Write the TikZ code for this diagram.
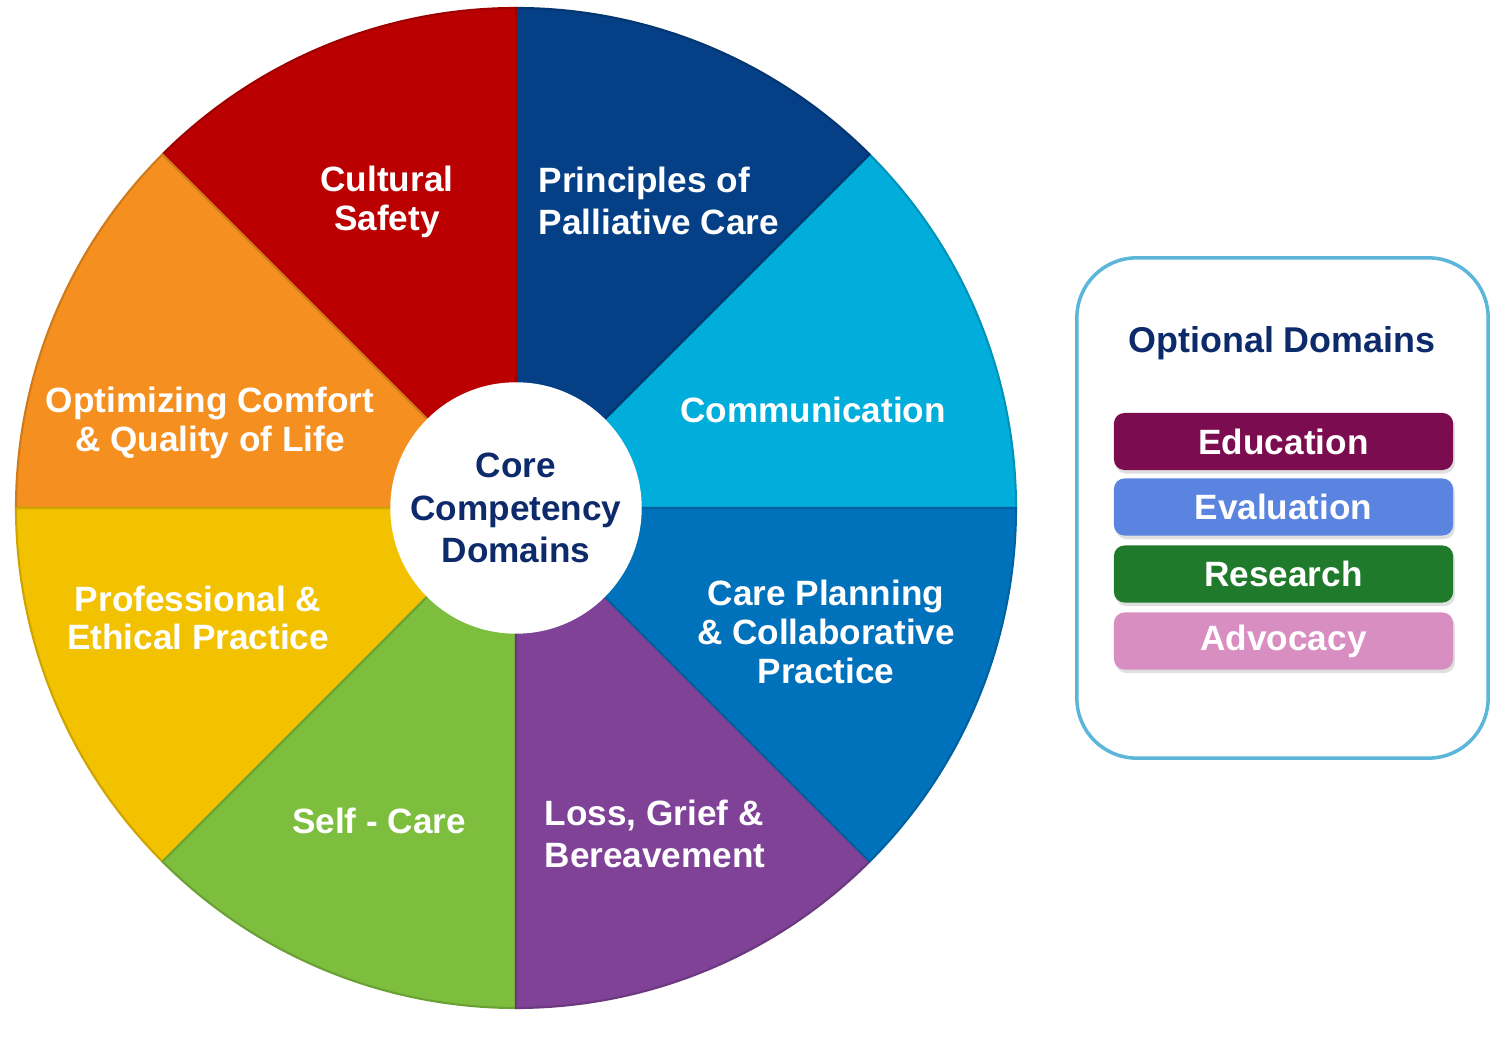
\documentclass[tikz,border=0pt]{standalone}
\usepackage{fontspec}
\setmainfont{Liberation Sans}
\usetikzlibrary{positioning,shadows}

\definecolor{safetyred}{HTML}{BA0000}
\definecolor{principlesblue}{HTML}{053F85}
\definecolor{commcyan}{HTML}{00ADDB}
\definecolor{planningblue}{HTML}{0072BC}
\definecolor{losspurple}{HTML}{7F4297}
\definecolor{selfgreen}{HTML}{7DBE3E}
\definecolor{ethicsyellow}{HTML}{F2C200}
\definecolor{comfortorange}{HTML}{F48F20}
\definecolor{corenavy}{HTML}{0D2A6B}
\definecolor{boxline}{HTML}{5BB6D9}
\definecolor{eduplum}{HTML}{7B0C4F}
\definecolor{evalblue}{HTML}{5A84E0}
\definecolor{researchgreen}{HTML}{1F7A2C}
\definecolor{advocacypink}{HTML}{D98EC2}

\tikzset{
  sectorlabel/.style={text=white, align=center, inner sep=0pt,
    font=\bfseries\fontsize{10}{11}\selectfont},
  optbar/.style={fill=#1, rounded corners=3pt, minimum width=3.39cm,
    minimum height=0.57cm, inner sep=0pt, text=white,
    drop shadow={opacity=0.25, shadow xshift=0.5pt, shadow yshift=-1pt},
    font=\bfseries\fontsize{10}{11}\selectfont}
}

\begin{document}
\begin{tikzpicture}[x=0.01cm, y=0.01cm]
	\useasboundingbox (0,0) rectangle (1509,1040);
	\coordinate (hub) at (516,532);

	% the eight domain sectors, counter-clockwise from east
	\foreach \start/\col in {0/commcyan, 45/principlesblue, 90/safetyred,
		135/comfortorange, 180/ethicsyellow, 225/selfgreen, 270/losspurple,
		315/planningblue}
	{
		\filldraw [fill=\col, draw=\col!85!black, line width=0.6pt]
			(hub) -- ++(\start:500) arc (\start:\start+45:500) -- cycle;
	}

	% centre disc
	\filldraw [fill=white, draw=white] (hub) circle (125);
	\node [align=center, text=corenavy, inner sep=0pt,
		font=\bfseries\fontsize{10}{12.2}\selectfont] (core) at (hub)
		{Core\\Competency\\Domains};

	% sector labels
	\node [sectorlabel] (safety) at (387,838) {Cultural\\Safety};
	\node [sectorlabel, align=left, anchor=west,
		font=\bfseries\fontsize{10}{11.7}\selectfont] (principles) at (538,839)
		{Principles of\\Palliative Care};
	\node [sectorlabel] (comm) at (813,630) {Communication};
	\node [sectorlabel] (planning) at (826,408)
		{Care Planning\\\& Collaborative\\Practice};
	\node [sectorlabel, align=left, anchor=west,
		font=\bfseries\fontsize{10}{12}\selectfont] (loss) at (544,206)
		{Loss, Grief \&\\Bereavement};
	\node [sectorlabel] (selfcare) at (379,219) {Self - Care};
	\node [sectorlabel] (ethics) at (198,422) {Professional \&\\Ethical Practice};
	\node [sectorlabel] (comfort) at (210,617)
		{Optimizing Comfort\\\& Quality of Life};

	% optional domains panel
	\node [draw=boxline, line width=1pt, rounded corners=17pt,
		minimum width=4.11cm, minimum height=5cm] (panel) at (1282.5,532) {};
	\node [text=corenavy, font=\bfseries\fontsize{10.2}{11}\selectfont]
		(opttitle) at (1282,697) {Optional Domains};
	\node [optbar=eduplum] (education) at (1283.5,598.5) {Education};
	\node [optbar=evalblue] (evaluation) at (1283.5,533) {Evaluation};
	\node [optbar=researchgreen] (research) at (1283.5,466) {Research};
	\node [optbar=advocacypink] (advocacy) at (1283.5,399) {Advocacy};
\end{tikzpicture}
\end{document}
